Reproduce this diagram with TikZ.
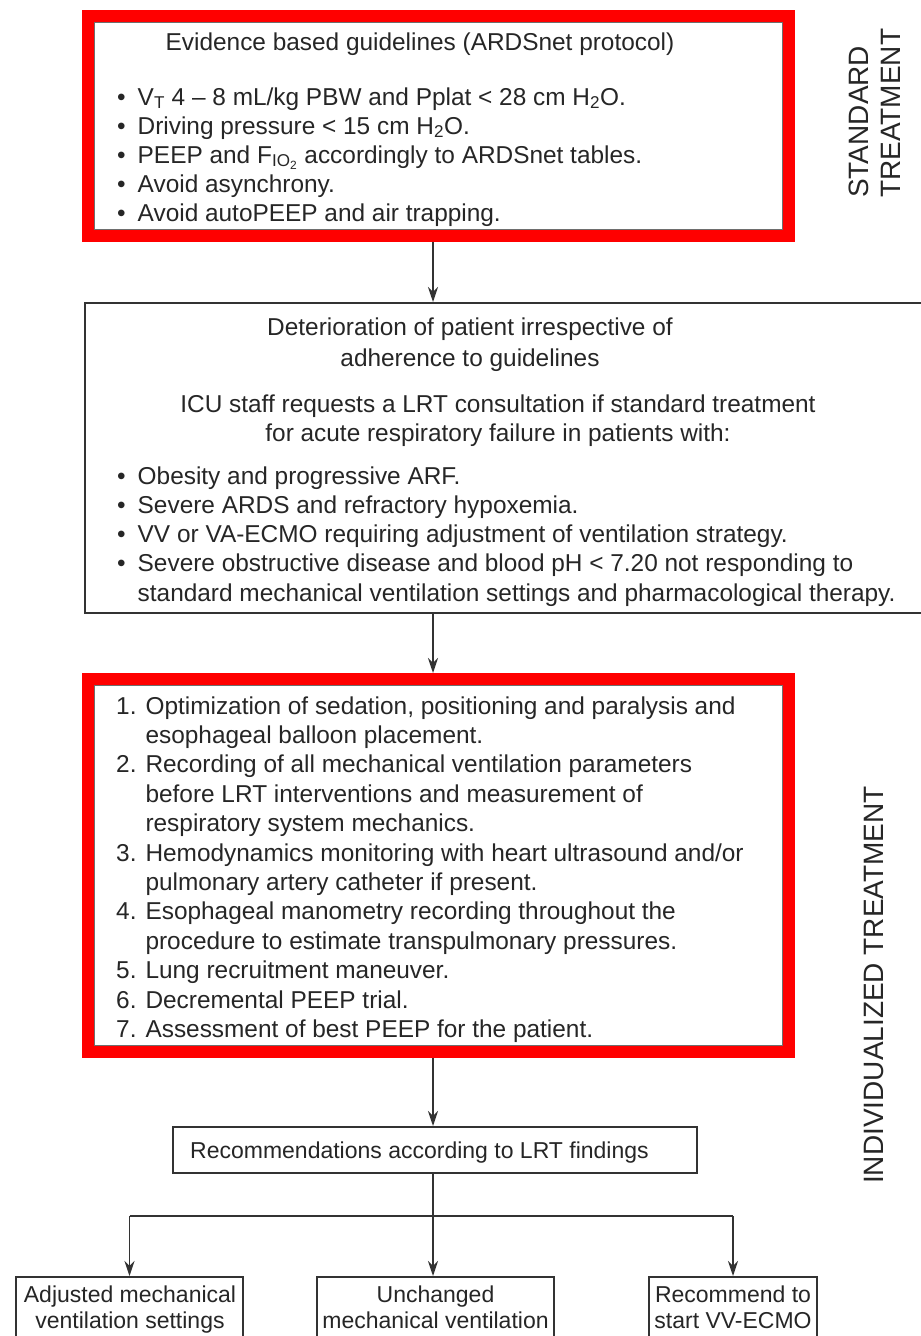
\documentclass[tikz,border=0pt]{standalone}
\usepackage{fontspec}
\setmainfont{Liberation Sans}
\usetikzlibrary{arrows.meta}
\definecolor{txt}{HTML}{262626}
\definecolor{redframe}{HTML}{FF0000}
\definecolor{edge}{HTML}{333333}
\definecolor{innerline}{HTML}{6E6E6E}
\begin{document}
\begin{tikzpicture}[x=1pt,y=-1pt,
  every node/.style={text=txt},
  body/.style={font=\fontsize{24.4}{29}\selectfont, inner sep=0},
  small/.style={font=\fontsize{23}{26}\selectfont, inner sep=0},
  redbox/.style={draw=redframe, line width=12pt, inner sep=0},
  plainbox/.style={draw=edge, line width=2pt, inner sep=0},
  thinline/.style={draw=innerline, line width=1pt},
  conn/.style={draw=edge, line width=1.8pt},
  arr/.style={conn, -{Stealth[length=15pt,width=10pt]}},
  side/.style={rotate=90, inner sep=0, font=\fontsize{28}{32}\selectfont}]
\useasboundingbox[fill=white] (0,0) rectangle (921,1336);
\coordinate (ax) at (433,0);

% ---------- box 1 ----------
\node[redbox, minimum width=701, minimum height=220] (box1) at (438.5,126) {};
\draw[thinline] ([shift={(12.5,12.5)}]box1.north west) rectangle ([shift={(-12.5,-12.5)}]box1.south east);
\node[body, anchor=base] (t1h) at (420,50) {Evidence based guidelines (ARDSnet protocol)};
\node[body, anchor=base west] (t1l) at (117,105) {\begin{tabular}[t]{@{}l@{\hspace{12pt}}l@{}}
• & V\textsubscript{T} 4 – 8 mL/kg PBW and Pplat < 28 cm H\textsubscript{2}O.\\
• & Driving pressure < 15 cm H\textsubscript{2}O.\\
• & PEEP and F\textsubscript{IO\textsubscript{2}} accordingly to ARDSnet tables.\\
• & Avoid asynchrony.\\
• & Avoid autoPEEP and air trapping.
\end{tabular}};

% ---------- box 2 ----------
\node[plainbox, minimum width=840, minimum height=310] (box2) at (505,458) {};
\node[body, anchor=base] (t2a) at (470,335) {\begin{tabular}[t]{@{}c@{}}
Deterioration of patient irrespective of\\[2pt]
adherence to guidelines
\end{tabular}};
\node[body, anchor=base] (t2b) at (498,412) {\begin{tabular}[t]{@{}c@{}}
ICU staff requests a LRT consultation if standard treatment\\
for acute respiratory failure in patients with:
\end{tabular}};
\node[body, anchor=base west] (t2l) at (117,484) {\begin{tabular}[t]{@{}l@{\hspace{12pt}}l@{}}
• & Obesity and progressive ARF.\\
• & Severe ARDS and refractory hypoxemia.\\
• & VV or VA-ECMO requiring adjustment of ventilation strategy.\\
• & Severe obstructive disease and blood pH < 7.20 not responding to\\[1pt]
  & standard mechanical ventilation settings and pharmacological therapy.
\end{tabular}};

% ---------- box 3 ----------
\node[redbox, minimum width=701, minimum height=373] (box3) at (438.5,865.5) {};
\draw[thinline] ([shift={(12.5,12.5)}]box3.north west) rectangle ([shift={(-12.5,-12.5)}]box3.south east);
\node[body, anchor=base west, font=\fontsize{24.4}{29.4}\selectfont] (t3l) at (116,714) {\begin{tabular}[t]{@{}r@{\hspace{9pt}}l@{}}
1. & Optimization of sedation, positioning and paralysis and\\
   & esophageal balloon placement.\\
2. & Recording of all mechanical ventilation parameters\\
   & before LRT interventions and measurement of\\
   & respiratory system mechanics.\\
3. & Hemodynamics monitoring with heart ultrasound and/or\\
   & pulmonary artery catheter if present.\\
4. & Esophageal manometry recording throughout the\\
   & procedure to estimate transpulmonary pressures.\\
5. & Lung recruitment maneuver.\\
6. & Decremental PEEP trial.\\
7. & Assessment of best PEEP for the patient.
\end{tabular}};

% ---------- box 4 ----------
\node[plainbox, minimum width=524, minimum height=46] (box4) at (435,1150) {};
\node[small, anchor=base west] (t4) at (190,1158) {Recommendations according to LRT findings};

% ---------- bottom boxes ----------
\node[plainbox, anchor=north, minimum width=227, minimum height=100] (boxA) at (129.5,1276) {};
\node[plainbox, anchor=north, minimum width=237, minimum height=100] (boxB) at (435.5,1276) {};
\node[plainbox, anchor=north, minimum width=168, minimum height=100] (boxC) at (733,1276) {};
\node[small, anchor=base] (tA) at (130,1302) {\begin{tabular}[t]{@{}c@{}}Adjusted mechanical\\ ventilation settings\end{tabular}};
\node[small, anchor=base] (tB) at (435.5,1302) {\begin{tabular}[t]{@{}c@{}}Unchanged\\ mechanical ventilation\end{tabular}};
\node[small, anchor=base] (tC) at (733,1302) {\begin{tabular}[t]{@{}c@{}}Recommend to\\ start VV-ECMO\end{tabular}};

% ---------- connectors ----------
\draw[arr] (box1.south -| ax) -- (box2.north -| ax);
\draw[arr] (box2.south -| ax) -- (box3.north -| ax);
\draw[arr] (box3.south -| ax) -- (box4.north -| ax);
\coordinate (split) at (433,1216);
\coordinate (bl) at (129.5,1216);
\coordinate (br) at (733,1216);
\draw[conn] (box4.south -| ax) -- (split);
\draw[conn] (bl) -- (br);
\draw[arr] (bl) -- (boxA.north);
\draw[arr] (split) -- (boxB.north -| ax);
\draw[arr] (br) -- (boxC.north);

% ---------- side labels ----------
\node[side, anchor=base west] (sideA) at (868,198) {\begin{tabular}[t]{@{}l@{}}STANDARD\\ TREATMENT\end{tabular}};
\node[side, anchor=base west] (sideB) at (883,1184) {INDIVIDUALIZED TREATMENT};
\end{tikzpicture}
\end{document}
